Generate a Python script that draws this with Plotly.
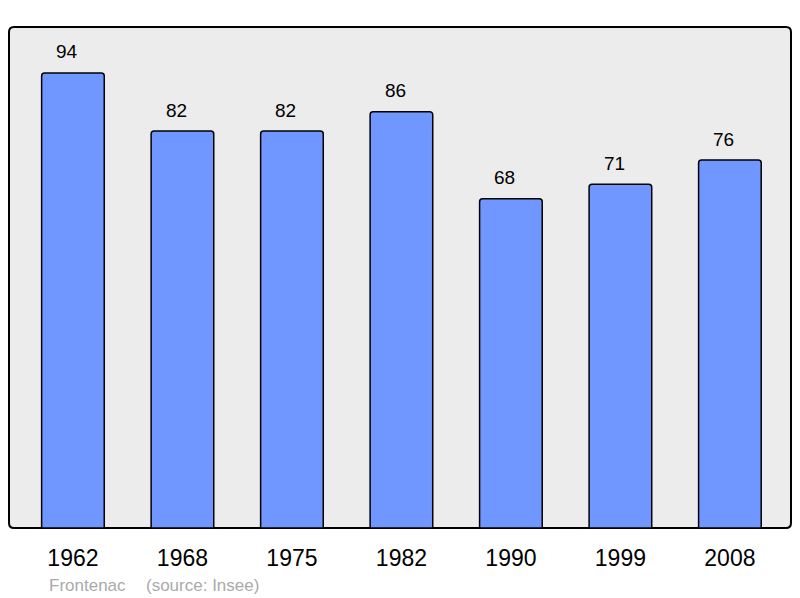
import plotly.graph_objects as go

years = ["1962", "1968", "1975", "1982", "1990", "1999", "2008"]
population = [94, 82, 82, 86, 68, 71, 76]
footer_place = "Frontenac"
footer_source = "(source: Insee)"

xs = list(range(len(years)))

fig = go.Figure()
fig.add_trace(go.Bar(
    x=xs, y=population,
    marker=dict(color="#7096ff", line=dict(color="#000000", width=1.5), cornerradius=3),
    width=0.572,
    hoverinfo="skip",
))

for xi, v in zip(xs, population):
    fig.add_annotation(x=xi, y=v, text=str(v), showarrow=False, yanchor="middle",
                       yshift=21, xshift=-6,
                       font=dict(family="Liberation Sans, Arial", size=19, color="#000"))

# rounded frame in paper coords
W, H = 782.0, 501.0
r = 5.0
rx, ry = r / W, r / H
path = (f"M {rx},0 L {1-rx},0 Q 1,0 1,{ry} L 1,{1-ry} Q 1,1 {1-rx},1 "
        f"L {rx},1 Q 0,1 0,{1-ry} L 0,{ry} Q 0,0 {rx},0 Z")
fig.add_shape(type="path", path=path, xref="paper", yref="paper",
              line=dict(color="#000000", width=2), fillcolor="#ececec", layer="below")

fig.add_annotation(x=(47 - 9) / W, y=(528 - 585) / H, xref="paper", yref="paper",
                   xanchor="left", yanchor="middle", text=footer_place, showarrow=False,
                   font=dict(family="Liberation Sans, Arial", size=17, color="#aaaaaa"))
fig.add_annotation(x=(144 - 9) / W, y=(528 - 585) / H, xref="paper", yref="paper",
                   xanchor="left", yanchor="middle", text=footer_source, showarrow=False,
                   font=dict(family="Liberation Sans, Arial", size=17, color="#aaaaaa"))

fig.update_layout(
    width=800, height=598,
    margin=dict(l=9, r=9, t=27, b=70),
    paper_bgcolor="#ffffff",
    plot_bgcolor="rgba(0,0,0,0)",
    showlegend=False,
    xaxis=dict(range=[-0.584, 6.558], tickvals=xs, ticktext=years, showgrid=False,
               zeroline=False, showline=False, ticks="", ticklabelstandoff=14,
               tickfont=dict(family="Liberation Sans, Arial", size=23, color="#000")),
    yaxis=dict(range=[0, 103.5], showgrid=False, zeroline=False, showticklabels=False,
               showline=False, ticks=""),
)

fig.write_html("out.html", config={"displayModeBar": False},
               post_script="document.body.style.margin='0';document.body.style.overflow='hidden';")
